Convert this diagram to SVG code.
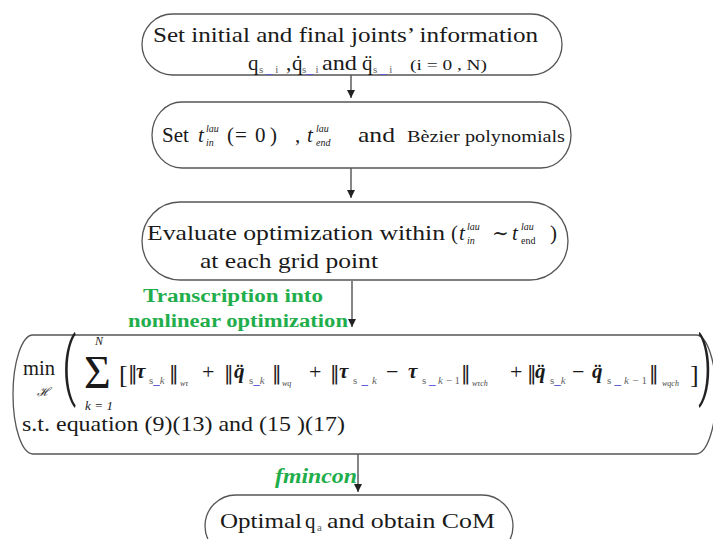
<svg xmlns="http://www.w3.org/2000/svg" width="713" height="539" viewBox="0 0 713 539">
<defs>
<style>
.box{fill:#fff;stroke:#555;stroke-width:1.3}
text{font-family:"Liberation Serif","DejaVu Serif",serif;fill:#1a1a1a}
.t{font-size:21px}
.sub{font-size:11px;fill:#666}
.u{fill:#5a5ad8;font-weight:bold;font-size:13px}
.it{font-style:italic}
.sup{font-size:10px;font-style:italic}
.g{fill:#1fae4b;font-weight:bold;font-size:18px}
.bi{font-style:italic;font-weight:bold;font-size:21px}
.w{font-size:8px;font-style:italic;fill:#444}
.op{font-size:22px}
.nm{font-family:"DejaVu Sans",sans-serif;font-size:19px;fill:#222}
.bp{font-family:Roboto,"DejaVu Sans",sans-serif;font-weight:300;font-size:32px;fill:#222}
.conn{stroke:#444;stroke-width:1.3;fill:none}
</style>
<marker id="ah" markerWidth="8" markerHeight="8" refX="8" refY="4" orient="auto" markerUnits="userSpaceOnUse">
<path d="M0,0 L8,4 L0,8 z" fill="#222"/>
</marker>
</defs>
<rect width="713" height="539" fill="#fff"/>

<g id="connectors">
<line class="conn" x1="351" y1="75" x2="351" y2="98" marker-end="url(#ah)"/>
<line class="conn" x1="351" y1="168" x2="351" y2="198" marker-end="url(#ah)"/>
<line class="conn" x1="352" y1="281" x2="352" y2="327" marker-end="url(#ah)"/>
<line class="conn" x1="358" y1="454" x2="358" y2="492" marker-end="url(#ah)"/>
</g>

<g id="node1">
<rect class="box" x="142" y="14" width="420" height="61" rx="30.5"/>
<text class="t" x="153" y="42" font-size="20" textLength="385" lengthAdjust="spacingAndGlyphs">Set initial and final joints’ information</text>
<text class="t" x="248" y="70" font-size="20">q</text>
<text class="sub" x="259" y="73">s <tspan class="u">_</tspan> i</text>
<text class="t" x="286" y="70" font-size="20">,</text>
<text class="t" x="292" y="70" font-size="20">q̇</text>
<text class="sub" x="302" y="73">s<tspan class="u">_</tspan> i</text>
<text class="t" x="322" y="70" font-size="20" textLength="35" lengthAdjust="spacingAndGlyphs">and</text>
<text class="t" x="362" y="70" font-size="20">q̈</text>
<text class="sub" x="373" y="73">s <tspan class="u">_</tspan> i</text>
<text x="410" y="70" font-size="15" textLength="77" lengthAdjust="spacingAndGlyphs">(i = 0 , N)</text>
</g>

<g id="node2">
<rect class="box" x="152" y="102" width="419" height="66" rx="30" ry="33"/>
<text class="t" x="162" y="142">Set</text>
<text class="t it" x="198" y="142">t</text>
<text class="sup" x="206" y="132">lau</text>
<text class="sup" x="206" y="146">in</text>
<text class="t" x="227 235 255 270" y="142" font-size="23">(=0)</text>
<text class="t" x="295" y="142">,</text>
<text class="t it" x="307" y="142">t</text>
<text class="sup" x="316" y="132">lau</text>
<text class="sup" x="316" y="146">end</text>
<text class="t" x="358" y="142" textLength="37" lengthAdjust="spacingAndGlyphs">and</text>
<text x="407" y="142" font-size="16" textLength="158" lengthAdjust="spacingAndGlyphs">Bèzier polynomials</text>
</g>

<g id="node3">
<rect class="box" x="142" y="202" width="426" height="78" rx="38" ry="39"/>
<text class="t" x="147" y="240" font-size="22" textLength="298" lengthAdjust="spacingAndGlyphs">Evaluate optimization within</text>
<text class="t" x="451" y="240" font-size="22">(</text>
<text class="t it" x="459" y="240">t</text>
<text class="sup" x="467" y="230">lau</text>
<text class="sup" x="467" y="244">in</text>
<text x="492" y="240" font-size="20">∼</text>
<text class="t it" x="512" y="240">t</text>
<text class="sup" x="521" y="230">lau</text>
<text x="521" y="244" font-size="10">end</text>
<text class="t" x="550" y="240" font-size="22">)</text>
<text class="t" x="200" y="268" font-size="22" textLength="178" lengthAdjust="spacingAndGlyphs">at each grid point</text>
</g>

<g id="label-transcription">
<text class="g" x="143" y="302" textLength="180" lengthAdjust="spacingAndGlyphs">Transcription into</text>
<text class="g" x="128" y="327" textLength="220" lengthAdjust="spacingAndGlyphs">nonlinear optimization</text>
</g>

<g id="node4">
<path class="box" d="M33,335 L696,335 A20,59.5 0 0 1 696,454 L33,454 A20,59.5 0 0 1 33,335 Z"/>
<text class="t" x="23" y="375" textLength="32" lengthAdjust="spacingAndGlyphs">min</text>
<text class="it" x="37" y="396" font-size="12">ℋ</text>
<text class="bp" transform="translate(62,391) scale(1.4,2.3)">(</text>
<text x="84" y="388" font-size="46">Σ</text>
<text class="it" x="95" y="345" font-size="12">N</text>
<text class="it" x="85" y="410" font-size="13" textLength="28" lengthAdjust="spacing">k=1</text>
<text x="119" y="383" font-size="26">[</text>
<text class="nm" x="128" y="380">‖</text>
<text class="bi" x="136" y="378">τ</text>
<text class="sub" x="149" y="384">s<tspan class="u">_</tspan><tspan font-style="italic">k</tspan></text>
<text class="nm" x="169" y="380">‖</text>
<text class="w" x="180" y="386">wτ</text>
<text class="op" x="202" y="379">+</text>
<text class="nm" x="224" y="380">‖</text>
<text class="bi" x="234" y="378">q̈</text>
<text class="sub" x="249" y="384">s<tspan class="u">_</tspan><tspan font-style="italic">k</tspan></text>
<text class="nm" x="272" y="380">‖</text>
<text class="w" x="282" y="386">wq</text>
<text class="op" x="309" y="379">+</text>
<text class="nm" x="330" y="380">‖</text>
<text class="bi" x="339" y="378">τ</text>
<text class="sub" x="353" y="384" textLength="24" lengthAdjust="spacing">s<tspan class="u">_</tspan><tspan font-style="italic">k</tspan></text>
<text class="op" x="386" y="379">−</text>
<text class="bi" x="408" y="378">τ</text>
<text class="sub" x="422" y="384" textLength="38" lengthAdjust="spacing">s<tspan class="u">_</tspan><tspan font-style="italic">k</tspan>−1</text>
<text class="nm" x="461" y="380">‖</text>
<text class="w" x="472" y="386">wτch</text>
<text class="op" x="510" y="379">+</text>
<text class="nm" x="527" y="380">‖</text>
<text class="bi" x="535" y="378">q̈</text>
<text class="sub" x="550" y="384">s<tspan class="u">_</tspan><tspan font-style="italic">k</tspan></text>
<text class="op" x="572" y="379">−</text>
<text class="bi" x="592" y="378">q̈</text>
<text class="sub" x="607" y="384" textLength="40" lengthAdjust="spacing">s<tspan class="u">_</tspan><tspan font-style="italic">k</tspan>−1</text>
<text class="nm" x="649" y="380">‖</text>
<text class="w" x="662" y="386">wqch</text>
<text x="690" y="383" font-size="26">]</text>
<text class="bp" transform="translate(698,391) scale(1.4,2.3)">)</text>
<text class="t" x="22" y="431" textLength="323" lengthAdjust="spacingAndGlyphs">s.t.  equation (9)(13) and (15 )(17)</text>
</g>

<g id="label-fmincon">
<text x="275" y="483" font-size="22" font-style="italic" font-weight="bold" style="fill:#1fae4b" textLength="82" lengthAdjust="spacingAndGlyphs">fmincon</text>
</g>

<g id="node5">
<rect class="box" x="205" y="495" width="308" height="62" rx="31"/>
<text class="t" x="220" y="528" font-size="22" textLength="82" lengthAdjust="spacingAndGlyphs">Optimal</text>
<text class="t" x="305" y="528" font-size="22">q</text>
<text class="sub" x="317" y="531" font-size="9">a</text>
<text class="t" x="327" y="528" font-size="22" textLength="168" lengthAdjust="spacingAndGlyphs">and obtain CoM</text>
</g>
</svg>
